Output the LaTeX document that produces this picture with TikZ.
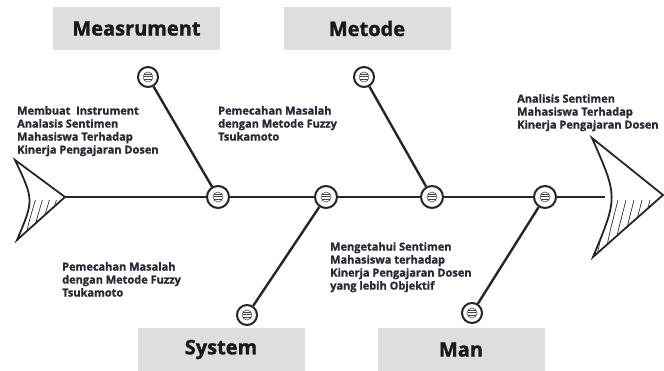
\documentclass[tikz,border=0pt]{standalone}
\usepackage{fontspec}
\setmainfont{Open Sans}[BoldFont={Open Sans Bold},BoldFeatures={FakeBold=1.4}]
\usetikzlibrary{positioning,calc}
\definecolor{tinta}{HTML}{2A2A36}
\definecolor{kotakabu}{HTML}{DEDEDE}
\tikzset{
  judul/.style={fill=kotakabu,minimum width=167pt,minimum height=43pt,inner sep=0pt,
    font=\bfseries\fontsize{20}{22}\selectfont,text=black!90},
  catatan/.style={anchor=north west,inner sep=0pt,align=left,text=tinta,
    font=\bfseries\fontsize{11}{13}\selectfont},
  tulang/.style={draw=black!85,line width=2.4pt},
  hub/.style={circle,draw=black!85,line width=2pt,fill=white,minimum size=#1,inner sep=0pt,
    path picture={
      \draw[gray!60!black,line width=0.6pt] (path picture bounding box.center) circle (5pt);
      \foreach \k in {-2.4,0,2.4}
        \draw[gray!50!black,line width=1pt] ([xshift=-3.6pt,yshift=\k pt]path picture bounding box.center) -- ++(7.2pt,0pt);
    }},
  hub/.default=22pt,
  arsir/.style={black!80,line width=0.7pt}
}

\begin{document}
\begin{tikzpicture}[x=1pt,y=-1pt]
\useasboundingbox (0,0) rectangle (664,371);

% kotak judul
\node[judul] (J1) at (136.5,28.5) {Measrument};
\node[judul] (J2) at (367,28.5) {Metode};
\node[judul] (J3) at (221,349.5) {System};
\node[judul] (J4) at (461,349.5) {Man};

% ekor dan kepala
\coordinate (ekor) at (65,197);
\coordinate (kepala) at (605,197);
\begin{scope}
  \clip (15,160) -- (65,197) -- (17,240) .. controls (34,200) .. (15,160) -- cycle;
  \clip (0,201) rectangle (70,250);
  \foreach \t in {10,17,...,52}
    \draw[arsir] (\t,245) .. controls (\t+4,225) .. (\t+12,198);
\end{scope}
\draw[black!85,line width=1.8pt,line join=miter] (15,160) -- (ekor) -- (17,240) .. controls (34,200) .. cycle;
\begin{scope}
  \clip (592,138) -- (663,195) -- (593,257) .. controls (618,197) .. (592,138) -- cycle;
  \clip (580,201) rectangle (664,262);
  \foreach \t in {596,604,...,660}
    \draw[arsir] (\t,262) .. controls (\t+5,235) .. (\t+14,200);
\end{scope}
\draw[black!85,line width=1.8pt,line join=miter] (592,138) -- (663,195) -- (593,257) .. controls (618,197) .. cycle;

% simpul pada tulang utama
\node[hub] (s1) at (218,197) {};
\node[hub] (s2) at (326,197) {};
\node[hub] (s3) at (432,197) {};
\node[hub] (s4) at (545,197) {};
\node[hub=20pt] (m1) at (148,77) {};
\node[hub=20pt] (m2) at (364,77) {};
\node[hub=20pt] (b1) at (247,315) {};
\node[hub=20pt] (b2) at (472,313) {};

\draw[tulang] (ekor) -- (s1) -- (s2) -- (s3) -- (s4) -- (kepala);
\draw[tulang] (m1) -- (s1);
\draw[tulang] (m2) -- (s3);
\draw[tulang] (s2) -- (b1);
\draw[tulang] (s4) -- (b2);

% keterangan
\node[catatan] (k1) at (17,106) {Membuat\ \ Instrument\\Analasis Sentimen\\Mahasiswa Terhadap\\Kinerja Pengajaran Dosen};
\node[catatan] (k2) at (218,106) {Pemecahan Masalah\\dengan Metode Fuzzy\\Tsukamoto};
\node[catatan] (k3) at (517,94) {Analisis Sentimen\\Mahasiswa Terhadap\\Kinerja Pengajaran Dosen};
\node[catatan] (k4) at (62,262) {Pemecahan Masalah\\dengan Metode Fuzzy\\Tsukamoto};
\node[catatan] (k5) at (330,242) {Mengetahui Sentimen\\Mahasiswa terhadap\\Kinerja Pengajaran Dosen\\yang lebih Objektif};
\end{tikzpicture}
\end{document}
